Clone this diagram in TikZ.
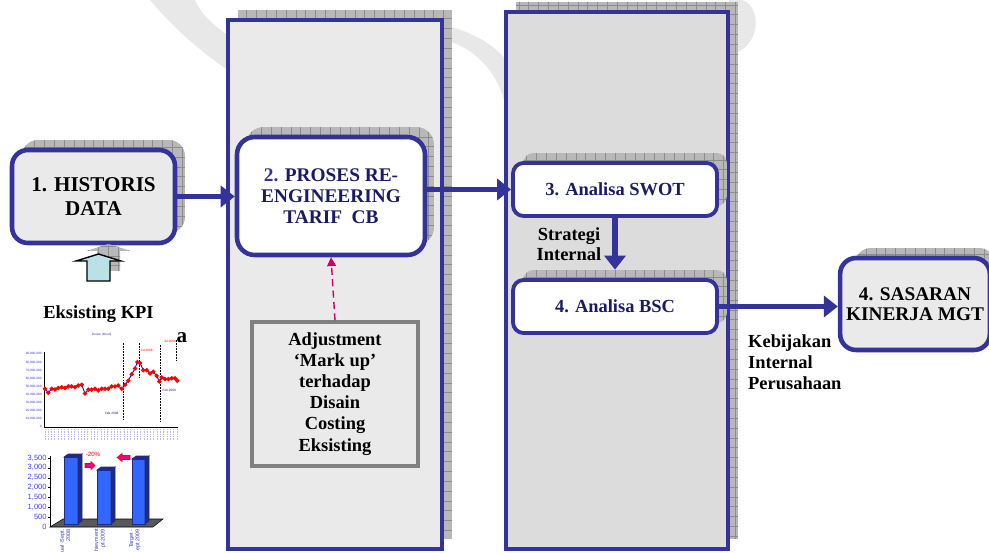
\documentclass[tikz,border=0pt]{standalone}
\usepackage{fontspec}
\setmainfont{Liberation Serif}
\newfontfamily\chartfont{Liberation Sans}
\usetikzlibrary{arrows.meta}

\definecolor{boxblue}{HTML}{333399}
\definecolor{navy}{HTML}{1A1A66}
\definecolor{panelA}{HTML}{EAEAEA}
\definecolor{panelB}{HTML}{DCDCDC}
\definecolor{shadowgray}{HTML}{B8B8B8}
\definecolor{gridgray}{HTML}{8C8C8C}
\definecolor{dashpink}{HTML}{CC0066}
\definecolor{arrowcyan}{HTML}{B9E2E6}
\definecolor{barblue}{HTML}{3366FF}
\definecolor{bardark}{HTML}{1F2A80}
\definecolor{ticknavy}{HTML}{3C3CB4}
\definecolor{wmgray}{HTML}{E8E8E8}

\tikzset{
  shadowbox/.style={fill=shadowgray, path picture={
    \draw[gridgray, line width=0.25pt] (path picture bounding box.south west)
      grid[step=5.6pt] (path picture bounding box.north east);}},
  panel/.style={draw=boxblue, line width=2.2pt},
  stepbox/.style={draw=boxblue, line width=2.6pt, rounded corners=9pt, align=center,
    font=\bfseries\fontsize{10.5}{12}\selectfont},
  flow/.style={draw=boxblue, line width=3.4pt, -{Triangle[length=8pt,width=12pt]}},
  plain/.style={align=center, font=\bfseries\fontsize{10.5}{12}\selectfont},
  tiny/.style={font=\chartfont\fontsize{1.8}{2}\selectfont, inner sep=0pt}
}

\begin{document}
\begin{tikzpicture}[x=0.02cm, y=-0.02cm]
\useasboundingbox (0,0) rectangle (989,553);
\clip (0,0) rectangle (989,553);

% watermark
\fill[wmgray] (150,0) .. controls (175,30) and (205,55) .. (228,70) -- (228,35) .. controls (212,25) and (200,12) .. (195,0) -- cycle;
\fill[wmgray] (443,40) .. controls (470,45) and (500,70) .. (506,110) -- (506,60) .. controls (490,40) and (465,30) .. (443,25) -- cycle;
\fill[wmgray] (729,0) -- (742,0) .. controls (760,5) and (762,40) .. (738,52) -- (729,52) -- cycle;

% panels
\node[shadowbox, minimum width=4.28cm, minimum height=10.58cm] (panAS) at (345,274.5) {};
\node[panel, fill=panelA, minimum width=4.28cm, minimum height=10.58cm] (panA) at (335,284.5) {};
\node[shadowbox, minimum width=4.44cm, minimum height=10.74cm] (panBS) at (627,270.5) {};
\node[panel, fill=panelB, minimum width=4.44cm, minimum height=10.74cm] (panB) at (617,280.5) {};

% boxes
\node[shadowbox, rounded corners=9pt, minimum width=3.26cm, minimum height=1.86cm] (histS) at (103.5,186.5) {};
\node[stepbox, fill=panelA, minimum width=3.26cm, minimum height=1.86cm,
  font=\bfseries\fontsize{12}{14}\selectfont] (hist) at (93.5,196.5) {1. HISTORIS\\DATA};

\node[shadowbox, rounded corners=10pt, minimum width=3.76cm, minimum height=2.36cm] (tarifS) at (340,186) {};
\node[stepbox, fill=white, text=navy, rounded corners=10pt, minimum width=3.76cm, minimum height=2.36cm,
  font=\bfseries\fontsize{11}{12}\selectfont]
  (tarif) at (331,196) {\textcolor{boxblue}{2.} PROSES RE-\\ENGINEERING\\TARIF\ \ CB};

\node[shadowbox, rounded corners=6pt, minimum width=4.08cm, minimum height=1.06cm] (swotS) at (625,179.5) {};
\node[stepbox, fill=white, text=navy, line width=2.2pt, rounded corners=6pt, minimum width=4.08cm,
  minimum height=1.06cm] (swot) at (615,189.5) {3. Analisa SWOT};

\node[shadowbox, rounded corners=6pt, minimum width=4.08cm, minimum height=1.06cm] (bscS) at (625,296.5) {};
\node[stepbox, fill=white, text=navy, line width=2.2pt, rounded corners=6pt, minimum width=4.08cm,
  minimum height=1.06cm] (bsc) at (615,306.5) {4. Analisa BSC};

\node[shadowbox, rounded corners=9pt, minimum width=2.8cm, minimum height=1.84cm] (sasaranS) at (925,294) {};
\node[stepbox, fill=panelA, minimum width=2.8cm, minimum height=1.84cm,
  font=\bfseries\fontsize{11}{11.5}\selectfont] (sasaran) at (915,304) {4. SASARAN\\KINERJA MGT};

\node[plain, draw=gray, line width=1.8pt, fill=panelA, minimum width=3.32cm, minimum height=2.88cm]
  (adjust) at (335,394) {Adjustment\\`Mark up'\\terhadap\\Disain\\Costing\\Eksisting};

% connectors
\draw[flow] (hist.east) -- (hist.east -| tarif.west);
\draw[flow] (tarif.east |- swot.west) -- (swot.west);
\draw[flow] (swot.south) -- (swot.south |- bscS.north);
\draw[flow] (bsc.east) -- (bsc.east -| sasaran.west);
\draw[dashpink, line width=0.8pt, dash pattern=on 4pt off 2.5pt, -{Triangle[length=5pt,width=5pt]}]
  (adjust.north) -- (tarif.south);

\node[plain, font=\bfseries\fontsize{10.5}{11.3}\selectfont] (strategi) at (569,244) {Strategi\\Internal};
\node[plain, anchor=west, align=left, font=\bfseries\fontsize{10.5}{11.8}\selectfont]
  (kebijakan) at (742,362) {Kebijakan\\Internal\\Perusahaan};

% input arrow
\path[shadowbox] (97,271) -- (97,251) -- (86,251) -- (108.5,244) -- (131,251) -- (120,251) -- (120,271) -- cycle;
\draw[fill=arrowcyan, line width=0.8pt] (87,281) -- (87,261) -- (76,261) -- (98.5,254) -- (121,261) -- (110,261) -- (110,281) -- cycle;

\node[plain] (kpi) at (98.5,314) {Eksisting KPI};
\node[plain, font=\bfseries\fontsize{12}{14}\selectfont] (kpiA) at (182,338) {a};

% line chart
\fill[white] (20,330) rectangle (176,443);
\node[tiny, text=ticknavy] (lineTitle) at (101.7,335) {Durasi (Musti)};
\foreach \v in {0,...,9}
  \node[tiny, text=ticknavy, anchor=east] at (42,426.7-8.07*\v) {\ifnum\v=0 0\else\v0,000,000\fi};
\draw[line width=0.4pt] (44,352) -- (44,427) -- (178,427);
\foreach \x in {45,48.3,...,178}
  \draw[ticknavy!35, line width=0.5pt, dash pattern=on 0.8pt off 0.5pt] (\x,429) -- (\x,440);
\draw[black, dash pattern=on 1pt off 0.6pt, line width=0.5pt] (123.3,343) -- (123.3,420) (139,343) -- (139,378)
  (160,345) -- (160,422) (176.7,340) -- (176.7,360);
\draw[blue, line width=0.5pt, mark=*, mark size=1pt, mark options={red, draw=red}] plot coordinates {
  (45,388.8) (48.3,392.8) (51.7,388.8) (55,389.6) (58.3,388) (61.7,387.2) (65,388) (68.3,386.4)
  (71.7,386.4) (75,387.2) (78.3,385.5) (81.7,384.7) (85,393.6) (88.3,389.6) (91.7,389.6) (95,388.8)
  (98.3,390.4) (101.7,388.8) (105,388.8) (108.3,388.8) (111.7,386.4) (115,386.4) (118.3,385.5)
  (121.7,388.8) (125,384.7) (128.3,380.7) (131.7,374.2) (135,368.6) (137.3,362.1) (140,362.9)
  (143.3,370.2) (146.7,370.2) (150,373.4) (153.3,371.8) (156.7,375.9) (159.3,381.5) (161.7,377.5)
  (165,379.1) (168.3,379.1) (171.7,378.3) (175,378.3) (177.3,380.7)};
\node[tiny, text=navy] (feb8) at (111.7,413.3) {Feb.2008};
\node[tiny, text=red] (jul8) at (146.7,350.7) {Jul.2008};
\node[tiny, text=red] (jul9) at (170,341.7) {Jul.2009};
\node[tiny, text=navy] (feb9) at (169.3,390) {Feb.2009};

% bar chart
\foreach \v/\t in {0/0,1/500,2/{1,000},3/{1,500},4/{2,000},5/{2,500},6/{3,000},7/{3,500}}
  \node[font=\chartfont\fontsize{4.3}{5}\selectfont, text=blue!75!white, anchor=east, inner sep=0pt]
    at (47,527-9.86*\v) {\t};
\fill[gray!70!black, draw=black, line width=0.3pt] (50,527) -- (153,527) -- (163,519) -- (63,519) -- cycle;
\draw[line width=0.4pt] (50,456) -- (50,527);
\foreach \y in {458,467.9,...,527} \draw[line width=0.3pt] (48,\y) -- (50,\y);
\foreach \a/\b/\top in {64/78/457, 97/111/470, 132/145/459} {
  \fill[barblue, draw=bardark, line width=0.3pt] (\a,524) rectangle (\b,\top);
  \fill[bardark, draw=bardark, line width=0.3pt] (\b,524) -- (\b+4,521) -- (\b+4,\top-3) -- (\b,\top) -- cycle;
  \fill[bardark, draw=bardark, line width=0.3pt] (\a,\top) -- (\a+4,\top-3) -- (\b+4,\top-3) -- (\b,\top) -- cycle;
}
\fill[magenta, draw=red, line width=0.3pt] (85,463.5) -- (91,463.5) -- (91,461.5) -- (95,465.5) -- (91,469.5) -- (91,467.5) -- (85,467.5) -- cycle;
\fill[magenta, draw=red, line width=0.3pt] (130,455.5) -- (122,455.5) -- (122,453.5) -- (117,457.5) -- (122,461.5) -- (122,459.5) -- (130,459.5) -- cycle;
\node[font=\chartfont\fontsize{3.5}{4}\selectfont, text=red, inner sep=0pt] (drop) at (93,454) {-20\%};
\foreach \x/\t in {65/{ual -Sept.\\2008}, 100/{hievment\\pt-2009}, 135/{Target -\\ept 2009}}
  \node[font=\chartfont\fontsize{3.1}{3.6}\selectfont, text=ticknavy, rotate=90, anchor=east, align=right, inner sep=0pt]
    at (\x,529) {\t};
\end{tikzpicture}
\end{document}
